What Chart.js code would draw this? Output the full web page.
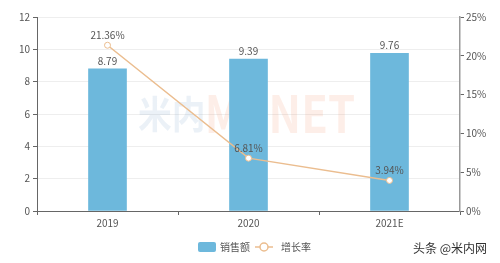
<!DOCTYPE html>
<html>
<head>
<meta charset="utf-8">
<script src="https://cdn.jsdelivr.net/npm/chart.js@4"></script>
<style>
  html, body { margin: 0; padding: 0; background: #fff; }
  #wrap { width: 500px; height: 263px; position: relative; }
</style>
</head>
<body>
<div id="wrap"><canvas id="chart" width="500" height="263"></canvas></div>
<script>
// data
const years = ["2019", "2020", "2021E"];
const salesValues = [8.79, 9.39, 9.76];
const growthRates = [21.36, 6.81, 3.94];
const leftTicks = [0, 2, 4, 6, 8, 10, 12];
const rightTicks = [0, 5, 10, 15, 20, 25];

const barColor = "#6db8dc";
const lineColor = "#ebbd8f";
const textColor = "#555";
const fontFamily = "'Noto Sans CJK SC', 'Noto Sans', sans-serif";

// value labels above bars and points
const valueLabels = {
  id: "valueLabels",
  afterDatasetsDraw(chart) {
    const ctx = chart.ctx;
    ctx.save();
    ctx.font = "10px " + fontFamily;
    ctx.fillStyle = textColor;
    ctx.textAlign = "center";
    ctx.textBaseline = "bottom";
    chart.getDatasetMeta(1).data.forEach((bar, i) => {
      ctx.fillText(salesValues[i].toFixed(2), bar.x, bar.y - 3);
    });
    chart.getDatasetMeta(0).data.forEach((pt, i) => {
      ctx.fillText(growthRates[i].toFixed(2) + "%", pt.x, pt.y - 5);
    });
    ctx.restore();
  },
};

// squeeze a text into a box (used for the faint watermark)
function fitText(ctx, text, x0, x1, yTop, yBottom, color) {
  ctx.save();
  ctx.font = "bold 40px " + fontFamily;
  ctx.textBaseline = "alphabetic";
  const m = ctx.measureText(text);
  const w = m.actualBoundingBoxLeft + m.actualBoundingBoxRight;
  const h = m.actualBoundingBoxAscent + m.actualBoundingBoxDescent;
  const sx = (x1 - x0) / w;
  const sy = (yBottom - yTop) / h;
  ctx.translate(x0, yTop);
  ctx.scale(sx, sy);
  ctx.fillStyle = color;
  ctx.fillText(text, m.actualBoundingBoxLeft, m.actualBoundingBoxAscent);
  ctx.restore();
}

// faint watermark in the middle, legend and source text at the bottom
const extras = {
  id: "extras",
  beforeDatasetsDraw(chart) {
    const ctx = chart.ctx;
    fitText(ctx, "米内", 138, 203, 95, 133, "rgba(120,160,200,0.15)");
    fitText(ctx, "MENET", 208, 354, 95, 133, "rgba(240,140,100,0.15)");
  },
  afterDraw(chart) {
    const ctx = chart.ctx;
    ctx.save();
    ctx.font = "10px " + fontFamily;
    ctx.textBaseline = "middle";
    ctx.fillStyle = barColor;
    ctx.beginPath();
    ctx.roundRect(198, 242, 18, 10, 2);
    ctx.fill();
    ctx.fillStyle = textColor;
    ctx.fillText("销售额", 220, 247);

    ctx.strokeStyle = lineColor;
    ctx.lineWidth = 1.5;
    ctx.beginPath();
    ctx.moveTo(255, 247);
    ctx.lineTo(273, 247);
    ctx.stroke();
    ctx.beginPath();
    ctx.arc(264, 247, 4, 0, Math.PI * 2);
    ctx.fillStyle = "#fff";
    ctx.fill();
    ctx.stroke();
    ctx.fillStyle = textColor;
    ctx.fillText("增长率", 281, 247);

    ctx.font = "12px " + fontFamily;
    ctx.fillStyle = "#333";
    ctx.fillText("头条 @米内网", 413, 248);
    ctx.restore();
  },
};

new Chart(document.getElementById("chart"), {
  data: {
    labels: years,
    datasets: [
      {
        type: "line",
        label: "增长率",
        data: growthRates,
        yAxisID: "y1",
        borderColor: lineColor,
        borderWidth: 1.5,
        pointRadius: 3,
        pointBackgroundColor: "#fff",
        pointBorderColor: lineColor,
        pointBorderWidth: 1,
        tension: 0,
        order: 0,
      },
      {
        type: "bar",
        label: "销售额",
        data: salesValues,
        yAxisID: "y",
        backgroundColor: barColor,
        barThickness: 38,
        order: 1,
      },
    ],
  },
  options: {
    responsive: false,
    animation: false,
    devicePixelRatio: 1,
    layout: { padding: { top: 17, left: 0, right: 0, bottom: 30 } },
    plugins: { legend: { display: false }, tooltip: { enabled: false } },
    scales: {
      x: {
        offset: true,
        grid: { display: true, drawOnChartArea: false, offset: true, tickLength: 4, color: "#666" },
        border: { color: "#666", width: 1 },
        ticks: { color: textColor, font: { size: 10, family: fontFamily }, padding: 2 },
        afterFit: (s) => { s.height = 22; },
      },
      y: {
        position: "left",
        min: 0,
        max: 12,
        afterBuildTicks: (s) => { s.ticks = leftTicks.map((v) => ({ value: v })); },
        grid: { color: "#eee", tickLength: 4, tickColor: "#666" },
        border: { color: "#666", width: 1 },
        ticks: { color: textColor, font: { size: 10, family: fontFamily }, padding: 3 },
        afterFit: (s) => { s.width = 37; },
      },
      y1: {
        position: "right",
        min: 0,
        max: 25,
        afterBuildTicks: (s) => { s.ticks = rightTicks.map((v) => ({ value: v })); },
        grid: { drawOnChartArea: false, tickLength: 4, color: "#666" },
        border: { color: "#999", width: 1.5 },
        ticks: {
          color: textColor,
          font: { size: 10, family: fontFamily },
          padding: 2,
          callback: (v) => v + "%",
        },
        afterFit: (s) => { s.width = 40; },
      },
    },
  },
  plugins: [valueLabels, extras],
});
</script>
</body>
</html>
